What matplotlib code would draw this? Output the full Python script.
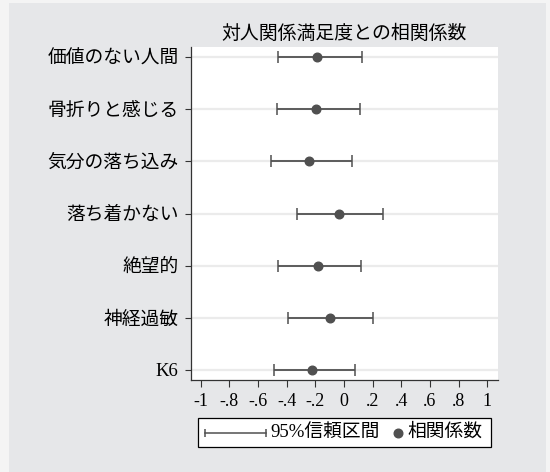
import matplotlib
matplotlib.use('Agg')
import matplotlib.pyplot as plt
from matplotlib.lines import Line2D
from matplotlib.patches import Rectangle

plt.rcParams['font.family'] = ['Liberation Serif', 'Noto Sans CJK JP', 'DejaVu Sans']

# 対人関係満足度との相関係数（点推定と95%信頼区間）
items = ['価値のない人間', '骨折りと感じる', '気分の落ち込み', '落ち着かない',
         '絶望的', '神経過敏', 'K6']
coef = [-0.186, -0.193, -0.246, -0.037, -0.18, -0.10, -0.226]
ci_low = [-0.463, -0.467, -0.509, -0.33, -0.458, -0.389, -0.49]
ci_high = [0.123, 0.114, 0.054, 0.27, 0.12, 0.205, 0.079]

xticks = [-1, -0.8, -0.6, -0.4, -0.2, 0, 0.2, 0.4, 0.6, 0.8, 1]
xtick_labels = ['-1', '-.8', '-.6', '-.4', '-.2', '0', '.2', '.4', '.6', '.8', '1']

bg = '#e6e7e9'
edge_bg = '#f4f4f4'
dark = '#505050'
W, H = 550, 472


def fx(px):
    return px / W


def fy(py):
    return 1 - py / H


fig = plt.figure(figsize=(5.5, 4.72), dpi=100)
fig.patch.set_facecolor(edge_bg)
# グレーの背景パネル
fig.add_artist(Rectangle((fx(9), 0), fx(546) - fx(9), fy(3),
                         transform=fig.transFigure, facecolor=bg,
                         edgecolor='none', zorder=-10))

ax = fig.add_axes([0.3473, 0.1949, 0.5582, 0.7055])
ax.set_facecolor('white')

ypos = list(range(1, len(items) + 1))
for y in ypos:
    ax.axhline(y, color='#ebebeb', linewidth=1.6, zorder=0)

xerr = [[c - lo for c, lo in zip(coef, ci_low)],
        [hi - c for c, hi in zip(coef, ci_high)]]
ax.errorbar(coef, ypos, xerr=xerr, fmt='none', ecolor=dark, elinewidth=1.3,
            capsize=4.2, capthick=1.1, zorder=2)
ax.plot(coef, ypos, 'o', color=dark, markersize=6.2, zorder=3)

ax.set_xlim(-1.068, 1.075)
ax.set_ylim(7.2, 0.8)
ax.set_yticks(ypos)
ax.set_yticklabels(items, fontsize=13.5)
ax.set_xticks(xticks)
ax.set_xticklabels(xtick_labels, fontsize=13)

for s in ['top', 'right']:
    ax.spines[s].set_visible(False)
for s in ['left', 'bottom']:
    ax.spines[s].set_color('#333333')
    ax.spines[s].set_linewidth(0.9)
ax.tick_params(axis='y', length=4, width=0.8, color='#333333', pad=5)
ax.tick_params(axis='x', length=5, width=0.8, color='#333333', pad=4)

ax.set_title('対人関係満足度との相関係数', fontsize=13.6, pad=6)

# 凡例（枠・信頼区間記号・点記号）
fig.add_artist(Rectangle((fx(198), fy(447)), fx(491) - fx(198), fy(418) - fy(447),
                         transform=fig.transFigure, facecolor='white',
                         edgecolor='black', linewidth=0.9))
fig.add_artist(Line2D([fx(205), fx(266)], [fy(433), fy(433)],
                      transform=fig.transFigure, color=dark, linewidth=1.1,
                      marker='|', markersize=6, markeredgewidth=1.1))
fig.text(fx(270), fy(432), '95%信頼区間', fontsize=13.5, ha='left', va='center')
fig.add_artist(Line2D([fx(398)], [fy(433)], transform=fig.transFigure,
                      linestyle='none', marker='o', color=dark, markersize=6.2))
fig.text(fx(407), fy(432), '相関係数', fontsize=13.5, ha='left', va='center')

fig.savefig('out.png', dpi=100, facecolor=edge_bg)
